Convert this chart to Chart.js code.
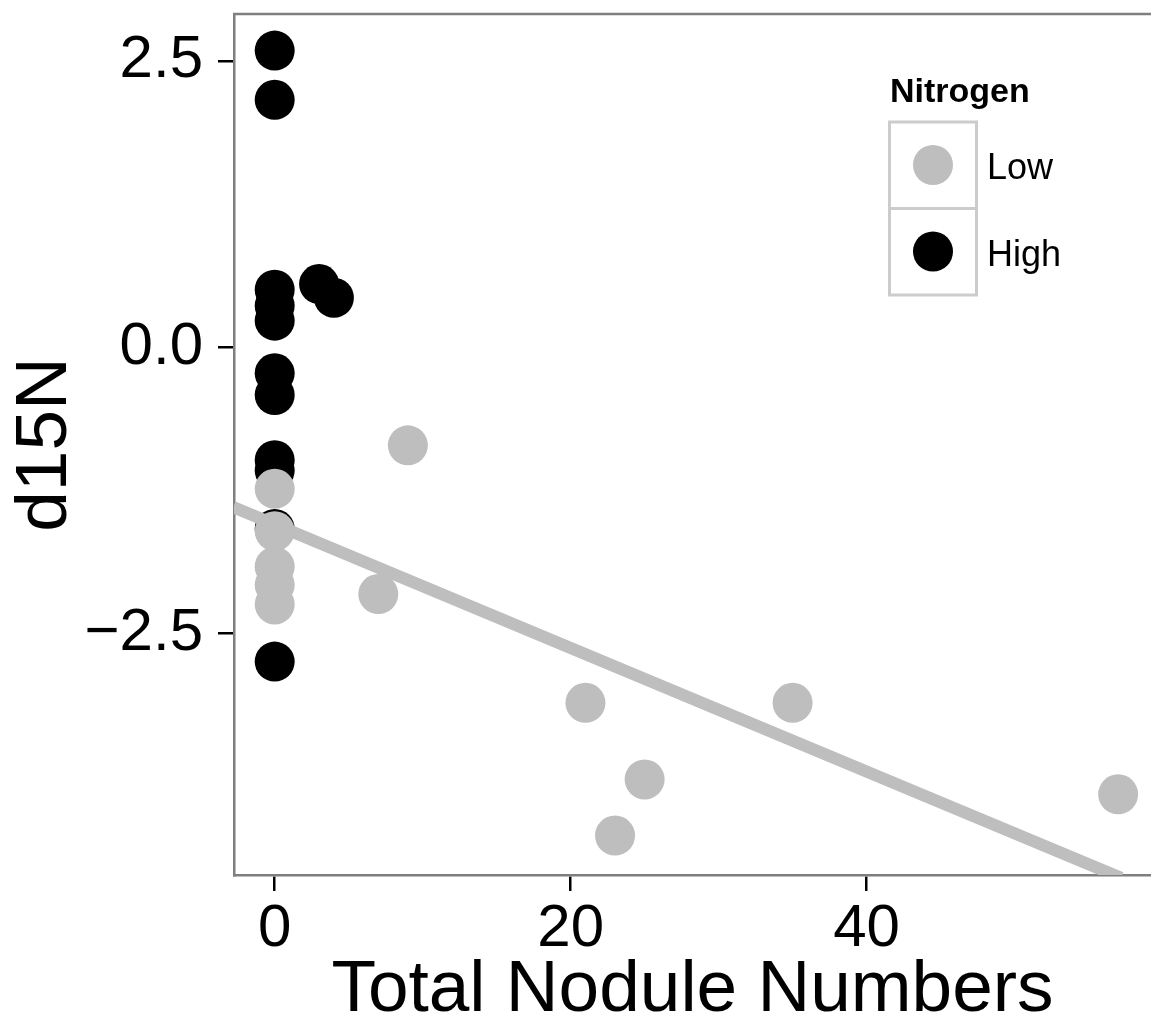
<!doctype html>
<html>
<head>
    <title>d15N vs nodules</title>
    <script src="https://cdn.jsdelivr.net/npm/chart.js"></script>
    <style>
        body { margin: 0; padding: 0; background: #ffffff; }
        #grafico { display: block; }
    </style>
</head>
<body>
    <canvas id="grafico" width="1151" height="1022"></canvas>
    <script>
        // values
        var highNodules = [0, 0, 3, 4, 0, 0, 0, 0, 0, 0, 0, 0, 0];
        var highD15N = [2.59, 2.16, 0.55, 0.43, 0.50, 0.36, 0.23, -0.23, -0.42, -0.99, -1.08, -1.59, -2.75];
        var lowNodules = [0, 0, 0, 0, 0, 9, 7, 21, 35, 25, 23, 57];
        var lowD15N = [-1.24, -1.61, -1.92, -2.08, -2.25, -0.86, -2.16, -3.11, -3.11, -3.78, -4.27, -3.91];
        // fitted line end points (as drawn)
        var fitNodules = [-2.8, 57.2];
        var fitD15N = [-1.40, -4.64];

        var xTicks = [0, 20, 40];
        var xTickLabels = ['0', '20', '40'];
        var yTicks = [-2.5, 0, 2.5];
        var yTickLabels = ['\u22122.5', '0.0', '2.5'];
        var legendLevels = ['Low', 'High'];

        var cinza = '#bebebe';
        var preto = '#000000';
        var fonte = "'Liberation Sans', Arial, sans-serif";

        function pares(xs, ys) {
            return xs.map(function (x, i) { return { x: x, y: ys[i] }; });
        }

        var legendaPlugin = {
            id: 'legendaNitrogen',
            afterDraw: function (chart) {
                var ctx = chart.ctx;
                ctx.save();
                ctx.fillStyle = '#000';
                ctx.textBaseline = 'alphabetic';
                ctx.textAlign = 'left';
                ctx.font = 'bold 34px ' + fonte;
                ctx.fillText('Nitrogen', 890, 102);
                legendLevels.forEach(function (nome, i) {
                    var ds = chart.data.datasets.find(function (d) { return d.label === nome; });
                    var top = 122 + i * 86.5;
                    ctx.strokeStyle = '#cccccc';
                    ctx.lineWidth = 3;
                    ctx.strokeRect(889.5, top, 87, 86.5);
                    ctx.beginPath();
                    ctx.arc(933, top + 43, 20, 0, Math.PI * 2);
                    ctx.fillStyle = ds.backgroundColor;
                    ctx.fill();
                    ctx.fillStyle = '#000';
                    ctx.font = '36px ' + fonte;
                    ctx.fillText(nome, 987, top + 57);
                });
                // panel top border
                var a = chart.chartArea;
                ctx.strokeStyle = '#7f7f7f';
                ctx.lineWidth = 2.5;
                ctx.beginPath();
                ctx.moveTo(a.left - 1, a.top);
                ctx.lineTo(a.right, a.top);
                ctx.stroke();
                ctx.restore();
            }
        };

        var grafico = new Chart(document.getElementById('grafico').getContext('2d'), {
            type: 'scatter',
            data: {
                datasets: [{
                    label: 'High',
                    data: pares(highNodules, highD15N),
                    backgroundColor: preto,
                    borderWidth: 0,
                    pointRadius: 20,
                    order: 3
                }, {
                    label: 'Low',
                    data: pares(lowNodules, lowD15N),
                    backgroundColor: cinza,
                    borderWidth: 0,
                    pointRadius: 20,
                    order: 2
                }, {
                    type: 'line',
                    label: 'fit',
                    data: pares(fitNodules, fitD15N),
                    borderColor: cinza,
                    borderWidth: 12,
                    pointRadius: 0,
                    fill: false,
                    order: 1
                }]
            },
            options: {
                responsive: false,
                animation: false,
                devicePixelRatio: 1,
                layout: { autoPadding: false, padding: { top: 14, right: 0, left: 0, bottom: 0 } },
                plugins: {
                    legend: { display: false },
                    tooltip: { enabled: false }
                },
                scales: {
                    x: {
                        type: 'linear',
                        min: -2.75,
                        max: 59.22,
                        afterFit: function (s) {
                            s.height = 147;
                            s.paddingLeft = 0;
                            s.paddingRight = 0;
                        },
                        afterBuildTicks: function (s) { s.ticks = xTicks.map(function (v) { return { value: v }; }); },
                        border: { display: true, color: '#7f7f7f', width: 2.5 },
                        grid: { display: true, drawOnChartArea: false, drawTicks: true, tickLength: 16, color: '#000', tickColor: '#000', lineWidth: 2.5, tickWidth: 2.5 },
                        ticks: {
                            padding: 2,
                            color: '#000',
                            font: { family: fonte, size: 60 },
                            maxRotation: 0,
                            callback: function (v) { return xTickLabels[xTicks.indexOf(v)]; }
                        },
                        title: {
                            display: true,
                            text: 'Total Nodule Numbers',
                            color: '#000',
                            font: { family: fonte, size: 73, lineHeight: 1 },
                            padding: { top: 0, bottom: -5 }
                        }
                    },
                    y: {
                        type: 'linear',
                        min: -4.615,
                        max: 2.91,
                        afterFit: function (s) {
                            s.width = 234;
                            s.paddingTop = 0;
                            s.paddingBottom = 0;
                        },
                        afterBuildTicks: function (s) { s.ticks = yTicks.map(function (v) { return { value: v }; }); },
                        border: { display: true, color: '#7f7f7f', width: 2.5 },
                        grid: { display: true, drawOnChartArea: false, drawTicks: true, tickLength: 16, color: '#000', tickColor: '#000', lineWidth: 2.5, tickWidth: 2.5 },
                        ticks: {
                            padding: 15,
                            color: '#000',
                            font: { family: fonte, size: 60 },
                            callback: function (v) { return yTickLabels[yTicks.indexOf(v)]; }
                        },
                        title: {
                            display: true,
                            text: 'd15N',
                            color: '#000',
                            font: { family: fonte, size: 73, lineHeight: 1 },
                            padding: { top: 9, bottom: 0 }
                        }
                    }
                }
            },
            plugins: [legendaPlugin]
        });
    </script>
</body>
</html>
